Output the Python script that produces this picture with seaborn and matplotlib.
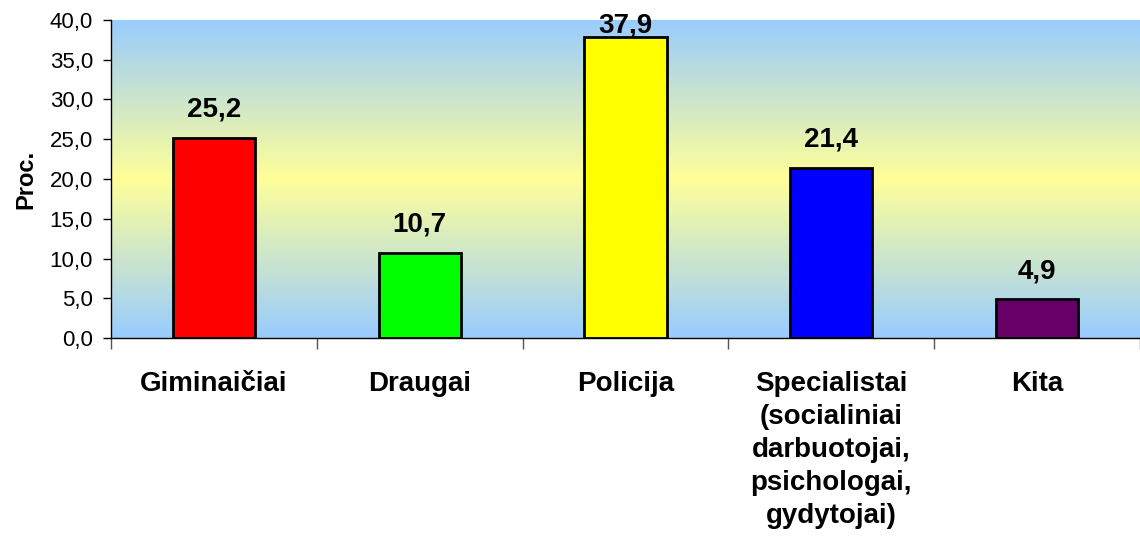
import numpy as np
import pandas as pd
import seaborn as sns
import matplotlib.pyplot as plt
from matplotlib.colors import LinearSegmentedColormap
from matplotlib.ticker import FixedLocator

categories = ['Giminaičiai', 'Draugai', 'Policija',
              'Specialistai\n(socialiniai\ndarbuotojai,\npsichologai,\ngydytojai)', 'Kita']
values = [25.2, 10.7, 37.9, 21.4, 4.9]
bar_colors = ['#FF0000', '#00FF00', '#FFFF00', '#0000FF', '#660066']

df = pd.DataFrame({'cat': categories, 'val': values})

sns.set_style('white', rc={'text.color': 'black', 'axes.labelcolor': 'black',
                           'xtick.color': 'black', 'ytick.color': 'black'})
plt.rcParams['font.family'] = ['Liberation Sans', 'DejaVu Sans']

fig = plt.figure(figsize=(11.4, 5.4), dpi=100)
ax = fig.add_axes([0.0974, 0.374, 0.9026, 0.589])

# gradient background blue - yellow - blue
cmap = LinearSegmentedColormap.from_list('bg', ['#99CCFF', '#FFFF99', '#99CCFF'])
grad = np.linspace(0, 1, 256).reshape(-1, 1)
ax.imshow(grad, cmap=cmap, aspect='auto', extent=[-0.5, 4.5, 0, 40],
          origin='lower', zorder=0)

sns.barplot(data=df, x='cat', y='val', hue='cat', palette=bar_colors,
            width=0.4, edgecolor='black', linewidth=2, legend=False,
            saturation=1, ax=ax, zorder=2)

ax.set_xlim(-0.5, 4.5)
ax.set_ylim(0, 40)
ax.set_yticks(np.arange(0, 41, 5))
ax.set_yticklabels([f'{v:.1f}'.replace('.', ',') for v in np.arange(0, 41, 5)], fontsize=16)
ax.tick_params(axis='y', length=6, width=1, direction='out', left=True, pad=7)

ax.set_xticks(range(len(categories)))
ax.set_xticklabels(categories, fontsize=20, fontweight='bold', linespacing=1.36, va='top')
ax.tick_params(axis='x', which='major', length=0, pad=23.5)
ax.xaxis.set_minor_locator(FixedLocator(np.arange(-0.5, 5, 1)))
ax.tick_params(axis='x', which='minor', length=8, width=1, direction='out',
               bottom=True, color='#555555')

ax.set_xlabel('')
ax.set_ylabel('Proc.', fontsize=17, fontweight='bold', labelpad=9)

for s in ['top', 'right']:
    ax.spines[s].set_visible(False)
for s in ['left', 'bottom']:
    ax.spines[s].set_color('black')
    ax.spines[s].set_linewidth(1)

for i, v in enumerate(values):
    y = min(v + 2.65, 38.4)
    ax.text(i, y, f'{v:.1f}'.replace('.', ','), ha='center', va='baseline',
            fontsize=20, fontweight='bold', zorder=3, clip_on=False)

fig.savefig('out.png', dpi=100)
